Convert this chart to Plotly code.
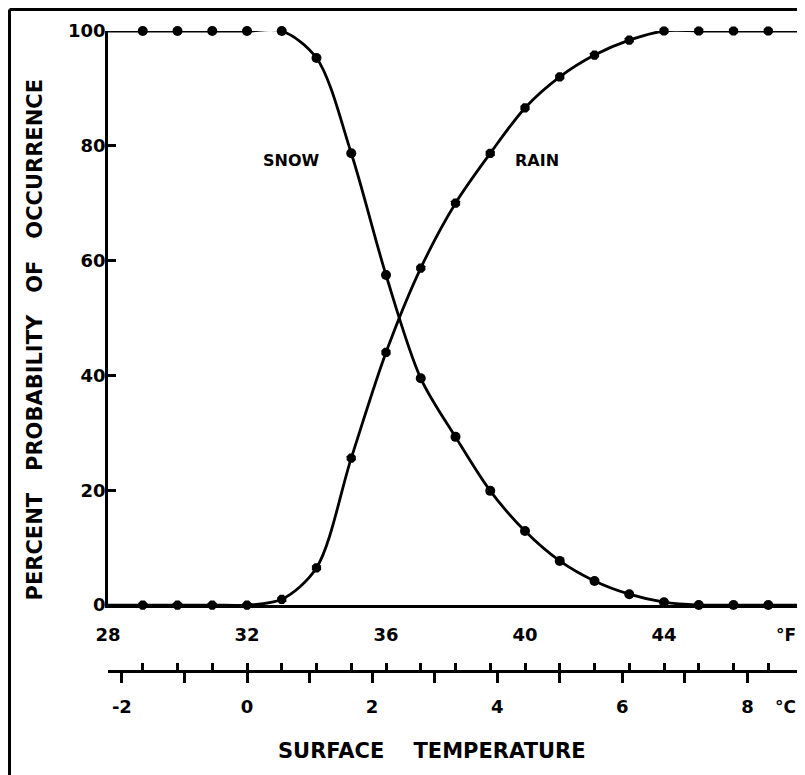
import plotly.graph_objects as go

# ---- data ----
temps_f = [28, 29, 30, 31, 32, 33, 34, 35, 36, 37, 38, 39, 40, 41, 42, 43, 44, 45, 46, 47, 48]
snow_pct = [100, 100, 100, 100, 100, 100, 95.3, 78.7, 57.5, 39.5, 29.3, 19.9, 12.9, 7.7, 4.2, 1.9, 0.5, 0, 0, 0, 0]
rain_pct = [0, 0, 0, 0, 0, 1, 6.5, 25.6, 44, 58.7, 70, 78.7, 86.6, 92, 95.8, 98.4, 100, 100, 100, 100, 100]
f_ticks = [28, 32, 36, 40, 44]
c_ticks = [-2, 0, 2, 4, 6, 8]

FONT = "DejaVu Sans"
BLACK = "black"

x_min, x_max = temps_f[0], temps_f[-1]
c_min, c_max = (x_min - 32) / 1.8, (x_max - 32) / 1.8

fig = go.Figure()

for vals, sym in ((snow_pct, "circle"), (rain_pct, "octagon")):
    fig.add_trace(go.Scatter(
        x=temps_f, y=vals, mode="lines",
        line=dict(color=BLACK, width=2.8, shape="spline", smoothing=0.9),
        cliponaxis=False, showlegend=False, hoverinfo="skip"))
    fig.add_trace(go.Scatter(
        x=temps_f[1:-1], y=vals[1:-1], mode="markers",
        marker=dict(color=BLACK, size=10, symbol=sym),
        cliponaxis=False, showlegend=False))

tickfont = dict(family=FONT, size=18, color=BLACK, weight="bold")

# the page body adds an 8 px offset, so the figure is 8 px smaller on each axis
fig.update_layout(
    width=797, height=767,
    margin=dict(l=100, r=2, t=23, b=104),
    paper_bgcolor="white", plot_bgcolor="white",
    xaxis=dict(
        range=[x_min, x_max], anchor="y",
        showline=True, linecolor=BLACK, linewidth=2.5,
        ticks="", tickmode="array", tickvals=f_ticks, ticktext=[str(v) for v in f_ticks],
        tickfont=tickfont, ticklabelstandoff=12,
        showgrid=False, zeroline=False),
    yaxis=dict(
        domain=[0.103, 1], range=[0, 100],
        showline=True, linecolor=BLACK, linewidth=2.5,
        ticks="inside", ticklen=8, tickwidth=2.5, tickcolor=BLACK,
        tickmode="array", tickvals=[0, 20, 40, 60, 80, 100],
        tickfont=tickfont, ticklabelstandoff=-4,
        showgrid=False, zeroline=False),
    xaxis2=dict(
        overlaying="x", anchor="free", position=0, side="bottom",
        range=[c_min, c_max],
        showline=True, linecolor=BLACK, linewidth=2.5,
        ticks="outside", ticklen=10, tickwidth=2.5, tickcolor=BLACK,
        tickmode="array", tickvals=c_ticks, ticktext=[str(v) for v in c_ticks],
        minor=dict(ticks="outside", dtick=1, tick0=0, ticklen=10, tickwidth=2.5, tickcolor=BLACK),
        tickfont=tickfont, ticklabelstandoff=9,
        showgrid=False, zeroline=False),
    xaxis3=dict(
        overlaying="x", anchor="free", position=0, side="bottom",
        range=[x_min, x_max],
        showline=False,
        ticks="inside", ticklen=8, tickwidth=2.5, tickcolor=BLACK,
        tickmode="linear", tick0=x_min, dtick=1,
        showticklabels=False, showgrid=False, zeroline=False),
)

# empty traces so the extra axes are registered
fig.add_trace(go.Scatter(x=[], y=[], xaxis="x2", showlegend=False))
fig.add_trace(go.Scatter(x=[], y=[], xaxis="x3", showlegend=False))

lab = dict(family=FONT, size=16, color=BLACK, weight="bold")
fig.add_annotation(x=33.27, y=77.4, xref="x", yref="y", text="SNOW", showarrow=False, font=lab,
                   xanchor="center", yanchor="middle")
fig.add_annotation(x=40.35, y=77.4, xref="x", yref="y", text="RAIN", showarrow=False, font=lab,
                   xanchor="center", yanchor="middle")

unitfont = dict(family=FONT, size=17, color=BLACK, weight="bold")
fig.add_annotation(x=0.9755, y=0.056, xref="paper", yref="paper", text="°F", showarrow=False,
                   font=unitfont, xanchor="center", yanchor="middle")
fig.add_annotation(x=0.9755, y=-0.056, xref="paper", yref="paper", text="°C", showarrow=False,
                   font=unitfont, xanchor="center", yanchor="middle")

titlefont = dict(family=FONT, size=21, color=BLACK, weight="bold")
sp = "\u00a0" * 4
fig.add_annotation(x=0.466, y=-0.125, xref="paper", yref="paper",
                   text="SURFACE" + sp + "TEMPERATURE", showarrow=False, font=titlefont,
                   xanchor="center", yanchor="middle")
sp3 = "\u00a0" * 3
fig.add_annotation(x=-0.105, y=0.518, xref="paper", yref="paper", textangle=-90,
                   text="PERCENT" + sp3 + "PROBABILITY" + sp3 + "OF" + sp3 + "OCCURRENCE",
                   showarrow=False, font=titlefont, xanchor="center", yanchor="middle")

# outer frame (left and top edges)
fig.add_shape(type="line", xref="paper", yref="paper", x0=-0.1417, x1=-0.1417, y0=-0.2, y1=1.0336,
              line=dict(color=BLACK, width=3))
fig.add_shape(type="line", xref="paper", yref="paper", x0=-0.1417, x1=1.01, y0=1.0336, y1=1.0336,
              line=dict(color=BLACK, width=3))

fig.write_html("out.html")
